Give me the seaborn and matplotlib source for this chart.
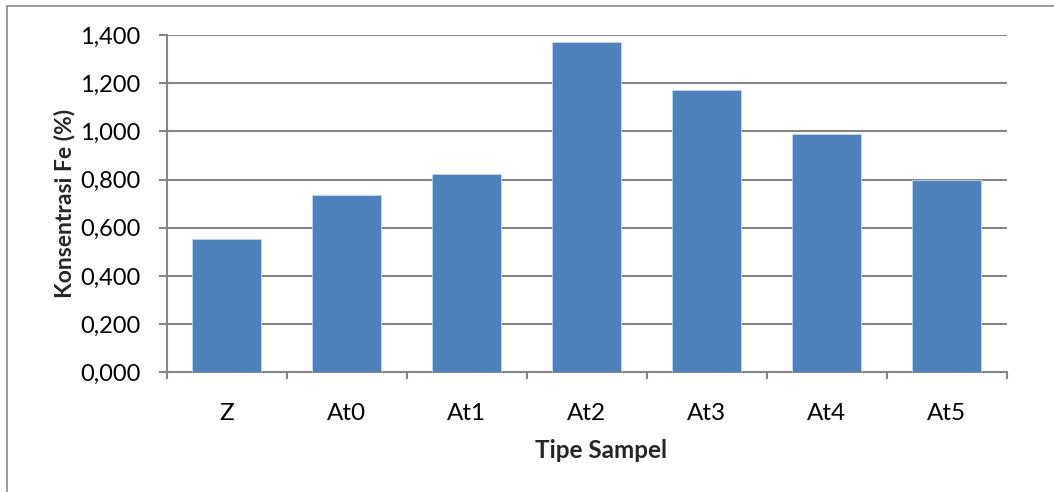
import matplotlib
matplotlib.use("Agg")
import matplotlib.pyplot as plt
from matplotlib.ticker import FuncFormatter, MultipleLocator, FixedLocator
from matplotlib.patches import Rectangle
import seaborn as sns
import pandas as pd

# Fe concentration per sample type
samples = ["Z", "At0", "At1", "At2", "At3", "At4", "At5"]
fe_conc = [0.552, 0.736, 0.825, 1.372, 1.171, 0.990, 0.800]

sns.set_theme(style="white")
plt.rcParams["font.family"] = ["Lato", "DejaVu Sans"]

df = pd.DataFrame({"Tipe Sampel": samples, "Fe": fe_conc})

fig = plt.figure(figsize=(10.54, 4.92), dpi=100)
ax = fig.add_axes([0.1582, 0.2433, 0.955 - 0.1582, 0.9289 - 0.2433])

grid_col = "#868686"
bar_col = "#4f81bd"

sns.barplot(data=df, x="Tipe Sampel", y="Fe", color=bar_col, width=0.572,
            saturation=1, edgecolor="#c5d5ea", linewidth=0.6, ax=ax, zorder=3)

ax.set_xlim(-0.5, len(samples) - 0.5)
ax.set_ylim(0, 1.4)
ax.yaxis.set_major_locator(MultipleLocator(0.2))
ax.yaxis.set_major_formatter(FuncFormatter(lambda v, p: f"{v:.3f}".replace(".", ",")))
ax.grid(axis="y", color=grid_col, linewidth=1.5, zorder=0)
ax.set_axisbelow(True)

for side in ("top", "right"):
    ax.spines[side].set_visible(False)
for side in ("left", "bottom"):
    ax.spines[side].set_color(grid_col)
    ax.spines[side].set_linewidth(1.5)

ax.tick_params(axis="y", which="major", left=True, length=6, width=1.5,
               color=grid_col, labelsize=17, labelcolor="black", pad=13)
ax.tick_params(axis="x", which="major", bottom=False, labelsize=17.5,
               labelcolor="black", pad=16)
ax.xaxis.set_minor_locator(FixedLocator([i - 0.5 for i in range(len(samples) + 1)]))
ax.tick_params(axis="x", which="minor", bottom=True, length=5, width=1.5, color=grid_col)

ax.set_xlabel("Tipe Sampel", fontsize=17.5, fontweight="bold", labelpad=11)
ax.xaxis.label.set_x(0.517)
ax.set_ylabel("Konsentrasi Fe (%)", fontsize=16.5, fontweight="bold", labelpad=3.5)

# chart area border
fig.patches.append(Rectangle((7 / 1054, -0.05), 1.2, 1 - 6 / 492 + 0.05,
                             transform=fig.transFigure, fill=False,
                             edgecolor=grid_col, linewidth=1.2))

fig.savefig("out.png", dpi=100)
